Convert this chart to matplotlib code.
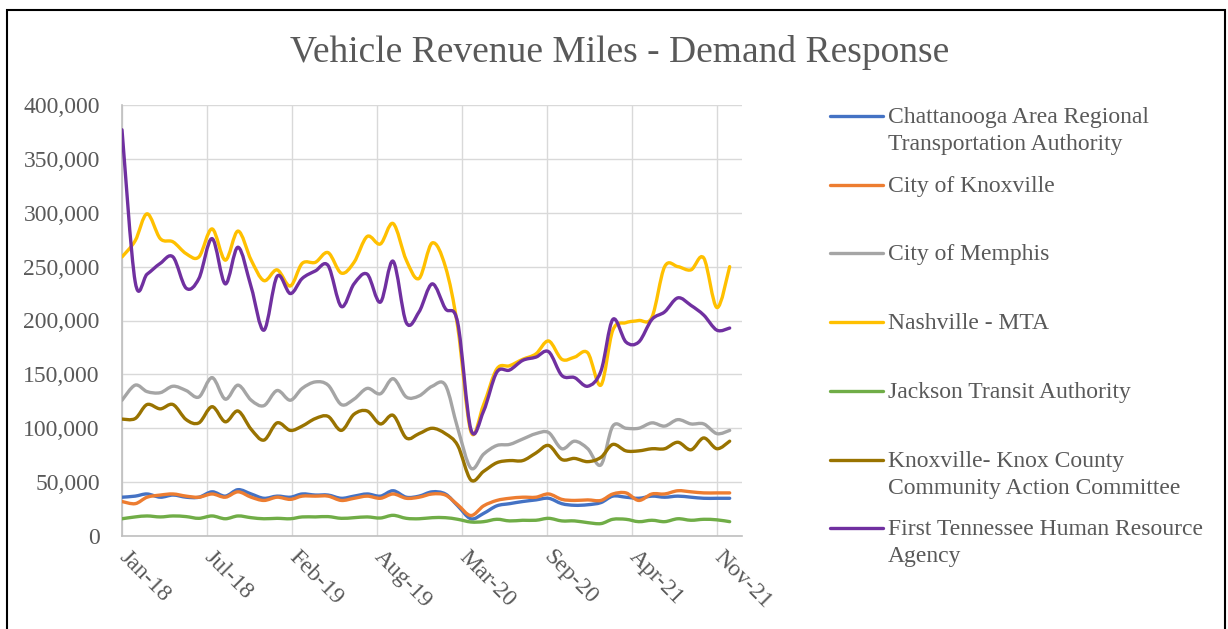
import numpy as np
import matplotlib
matplotlib.use("Agg")
import matplotlib.pyplot as plt
from matplotlib.path import Path
from matplotlib.patches import PathPatch, Rectangle
from matplotlib.lines import Line2D
from matplotlib.ticker import FuncFormatter

# ---------------- data (thousands of miles) ----------------
start_month = "2018-01"
end_month = "2022-01"  # exclusive

tick_labels = ["Jan-18", "Jul-18", "Feb-19", "Aug-19", "Mar-20", "Sep-20", "Apr-21", "Nov-21"]

series_names = [
    "Chattanooga Area Regional\nTransportation Authority",
    "City of Knoxville",
    "City of Memphis",
    "Nashville - MTA",
    "Jackson Transit Authority",
    "Knoxville- Knox County\nCommunity Action Committee",
    "First Tennessee Human Resource\nAgency",
]

chattanooga = [36, 37, 39, 36, 38, 36, 36, 41, 37, 43, 39, 35,
               37, 36, 39, 38, 38, 35, 37, 39, 37, 42, 36, 37,
               41, 39, 28, 16, 21, 28, 30, 32, 33.5, 35, 30, 28.5,
               29, 31, 37, 36, 35, 37, 36, 37, 36, 35, 35, 35]
knoxville = [32, 30, 36, 38, 39, 37, 36, 39, 36, 41, 36, 33,
             36, 34, 37, 37, 37, 33, 35, 37, 35, 39, 35, 36,
             39, 38, 29, 19, 28, 33, 35, 36, 36, 39, 34, 33,
             33.5, 33, 39, 40, 33, 39, 39, 42, 41, 40, 40, 40]
memphis = [126, 140, 134, 133, 139, 135, 129, 147, 127, 140, 126, 121,
           135, 126, 137, 143, 140, 122, 127, 137, 132, 146, 129, 130,
           139, 140, 100, 63, 76, 84, 85, 90, 95, 96, 81, 88,
           81, 66, 102, 100, 100, 105, 102, 108, 104, 104, 95, 98]
nashville = [259, 274, 299, 276, 273, 262, 259, 285, 256, 283, 256, 237,
             247, 232, 253, 254, 263, 244, 254, 278, 271, 290, 256, 239,
             272, 250, 194, 97, 122, 155, 158, 164, 169, 181, 164, 166,
             170, 140, 191, 198, 200, 203, 250, 250, 247, 258, 212, 250]
jackson = [16, 17.7, 18.6, 17.7, 18.6, 18, 16.4, 18.6, 16, 18.6, 17, 16,
           16.4, 16, 17.7, 17.7, 18, 16.4, 17, 17.7, 16.7, 19.2, 16.4, 16,
           17, 17, 15.5, 13, 13.3, 15.5, 14, 14.6, 14.6, 16.4, 14, 14,
           12.4, 11.5, 15.5, 15.5, 13.3, 14.6, 13.3, 16, 14.6, 15.5, 15, 13.3]
knox_cac = [108.5, 109, 122, 118, 122, 108, 105, 120, 106, 116, 99, 89,
            105, 98, 102, 109, 111, 98, 113, 116, 104, 112, 91, 95,
            100, 95, 84, 52, 60, 68, 70, 70, 77, 84, 71, 72,
            69, 73, 85, 79, 79, 81, 81, 87, 80, 91, 81, 88]
first_tn = [377, 236, 243, 253, 259, 230, 239, 276, 234, 268, 231, 191,
            241, 225, 239, 246, 251, 213, 234, 243, 217, 255, 198, 208,
            234, 211, 198, 99, 116, 152, 154, 163, 166, 171, 149, 147,
            139, 153, 201, 180, 180, 201, 208, 221, 214, 205, 191, 193]

series_values = [chattanooga, knoxville, memphis, nashville, jackson, knox_cac, first_tn]
colors = ["#4472C4", "#ED7D31", "#A5A5A5", "#FFC000", "#70AD47", "#997300", "#7030A0"]

# ---------------- layout ----------------
W, H = 1228, 629
TXT = "#595959"
SERIF = ["Liberation Serif", "DejaVu Serif"]

months = np.arange(start_month, end_month, dtype="datetime64[M]")
origin = months[0].astype("datetime64[D]")
days = (months.astype("datetime64[D]") - origin).astype(float)
tick_days = np.arange(len(tick_labels)) * 200.0


def smooth_path(x, y):
    pts = np.column_stack([x, y])
    n = len(pts)
    verts = [pts[0]]
    codes = [Path.MOVETO]
    for i in range(n - 1):
        p0 = pts[i - 1] if i > 0 else pts[i]
        p1 = pts[i]
        p2 = pts[i + 1]
        p3 = pts[i + 2] if i + 2 < n else pts[i + 1]
        c1 = p1 + (p2 - p0) / 6.0
        c2 = p2 - (p3 - p1) / 6.0
        verts += [c1, c2, p2]
        codes += [Path.CURVE4] * 3
    return Path(np.array(verts), codes)


fig = plt.figure(figsize=(W / 100, H / 100), dpi=100)
fig.patch.set_facecolor("white")

ax = fig.add_axes([122 / W, 1 - 536 / H, (742 - 122) / W, (536 - 105) / H])
ax.set_xlim(0, 1459)
ax.set_ylim(0, 400000)

for vals, col in zip(series_values, colors):
    y = np.array(vals, dtype=float) * 1000
    p = smooth_path(days, y)
    ax.add_patch(PathPatch(p, fill=False, edgecolor=col, lw=2.4,
                           capstyle="round", joinstyle="round", zorder=3))

ax.set_yticks(np.arange(0, 400001, 50000))
ax.yaxis.set_major_formatter(FuncFormatter(lambda v, _: f"{int(v):,}"))
ax.set_xticks(tick_days)
ax.set_xticklabels(tick_labels)

ax.grid(True, color="#D9D9D9", lw=1.0, zorder=0)
ax.set_axisbelow(True)
for s in ["top", "right"]:
    ax.spines[s].set_visible(False)
for s in ["left", "bottom"]:
    ax.spines[s].set_color("#BFBFBF")
    ax.spines[s].set_linewidth(1.2)

ax.tick_params(axis="y", length=0, pad=16, labelsize=17, labelcolor=TXT)
ax.tick_params(axis="x", length=0, pad=13, labelsize=17, labelcolor=TXT)
for lab in ax.get_yticklabels():
    lab.set_family(SERIF)
for lab in ax.get_xticklabels():
    lab.set_family(SERIF)
    lab.set_rotation(-45)
    lab.set_ha("left")
    lab.set_va("center")
    lab.set_rotation_mode("anchor")

# title
fig.text(620 / W, 1 - 53 / H, "Vehicle Revenue Miles - Demand Response",
         ha="center", va="center", fontsize=27, color=TXT, family=SERIF)

# legend (manual, Excel-like)
y0, dy = 116, 68.7
for k, (name, col) in enumerate(zip(series_names, colors)):
    yy = 1 - (y0 + k * dy) / H
    fig.add_artist(Line2D([830 / W, 883 / W], [yy, yy], transform=fig.transFigure,
                          color=col, lw=2.4, solid_capstyle="round"))
    fig.text(888 / W, yy + 9 / H, name, ha="left", va="top", fontsize=17,
             color=TXT, family=SERIF, linespacing=1.38)

# outer border
fig.add_artist(Rectangle((7 / W, -0.05), (1225 - 7) / W, 1.05 - 10 / H,
                         transform=fig.transFigure, fill=False,
                         edgecolor="black", lw=1.5))

fig.savefig("out.png", dpi=100, facecolor="white")
